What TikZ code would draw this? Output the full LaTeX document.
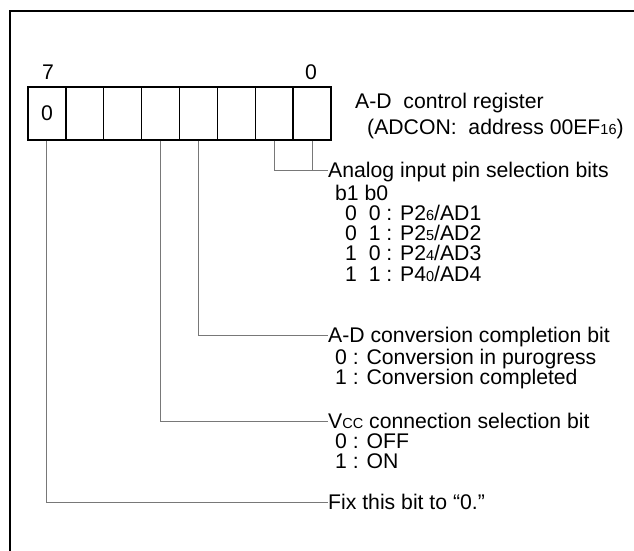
\documentclass[tikz,border=0pt]{standalone}
\usepackage{fontspec}
\setmainfont{Liberation Sans}
\newcommand{\sbs}[1]{{\fontsize{14.5}{14.5}\selectfont #1}}
\definecolor{leadgray}{RGB}{120,120,120}
\begin{document}
\begin{tikzpicture}[x=1pt,y=-1pt,
  cell/.style={draw, line width=1.4pt, minimum width=37.875pt, minimum height=53pt, inner sep=0pt, font=\fontsize{21.2}{20}\selectfont},
  txt/.style={anchor=west, inner sep=0pt, text height=15.2pt, text depth=0pt, font=\fontsize{21.2}{20}\selectfont},
  bitnum/.style={inner sep=0pt, font=\fontsize{21.2}{20}\selectfont},
  lead/.style={draw=leadgray, line width=0.9pt},
  frame/.style={line width=2.6pt}]
\useasboundingbox (0,0) rectangle (634,551);
\draw[frame] (10,551) -- (10,11) -- (634,11);
% register cells
\node[cell] (b7) at (46.94,113.5) {0};
\node[cell] (b6) at (84.81,113.5) {};
\node[cell] (b5) at (122.69,113.5) {};
\node[cell] (b4) at (160.56,113.5) {};
\node[cell] (b3) at (198.44,113.5) {};
\node[cell] (b2) at (236.31,113.5) {};
\node[cell] (b1) at (274.19,113.5) {};
\node[cell] (b0) at (312.06,113.5) {};
\node[bitnum] (l7) at (48,72) {7};
\node[bitnum] (l0) at (311,72) {0};
% texts
\node[txt] (title) at (355,101) {A-D\ \ control register};
\node[txt] (addr) at (367,127) {(ADCON:\ \ address 00EF\sbs{16})};
\node[txt] (analog) at (328,170) {Analog input pin selection bits};
\node[txt] (bb) at (335,193) {b1 b0};
\node[txt] (p1) at (345,213) {0\ \ 0 : P2\sbs{6}/AD1};
\node[txt] (p2) at (345,233) {0\ \ 1 : P2\sbs{5}/AD2};
\node[txt] (p3) at (345,253) {1\ \ 0 : P2\sbs{4}/AD3};
\node[txt] (p4) at (345,274) {1\ \ 1 : P4\sbs{0}/AD4};
\node[txt] (conv) at (328,335) {A-D conversion completion bit};
\node[txt] (c0) at (335,356.5) {0 : Conversion in purogress};
\node[txt] (c1) at (335,376.5) {1 : Conversion completed};
\node[txt] (vcc) at (328,421) {V\sbs{CC} connection selection bit};
\node[txt] (v0) at (335,441) {0 : OFF};
\node[txt] (v1) at (335,461) {1 : ON};
\node[txt] (fix) at (328,502) {Fix this bit to “0.”};
% leaders
\draw[lead] (b1.south) |- (analog.west);
\draw[lead] (b0.south) |- (analog.west);
\draw[lead] (b3.south) |- (conv.west);
\draw[lead] (b4.south) |- (vcc.west);
\draw[lead] (b7.south) |- (fix.west);
\end{tikzpicture}
\end{document}
